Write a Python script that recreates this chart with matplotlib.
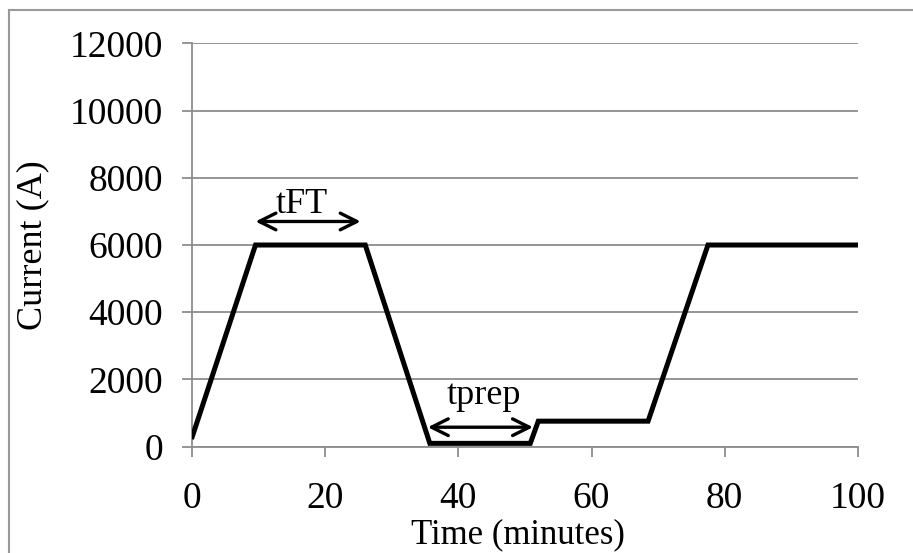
import matplotlib
matplotlib.use("Agg")
import matplotlib.pyplot as plt
from matplotlib.lines import Line2D

# current profile
time_min = [0, 9.5, 26, 35.7, 50.8, 52, 68.5, 77.5, 100]
current_a = [300, 6000, 6000, 100, 100, 760, 760, 6000, 6000]

x_ticks = [0, 20, 40, 60, 80, 100]
y_ticks = [0, 2000, 4000, 6000, 8000, 10000, 12000]

# interval markers: (label, start, end, arrow level, text x, text baseline)
intervals = [
    ("tFT", 9.5, 25.3, 6700, 16.4, 6950),
    ("tprep", 35.4, 51.2, 580, 43.8, 1270),
]

plt.rcParams['font.family'] = ['Liberation Serif', 'DejaVu Serif']
grid_col = '#8c8c8c'

fig = plt.figure(figsize=(9.13, 5.53), dpi=100)
ax = fig.add_axes([0.2106, 0.1922, 0.7288, 0.7295])

ax.plot(time_min, current_a, color='black', lw=3.6, solid_joinstyle='miter', zorder=3)

for label, x0, x1, ya, xt, yt in intervals:
    ax.annotate('', xy=(x0, ya), xytext=(x1, ya),
                arrowprops=dict(arrowstyle='<->', color='black', lw=2.4,
                                mutation_scale=30, shrinkA=0, shrinkB=0))
    ax.text(xt, yt, label, ha='center', va='baseline', fontsize=26)

ax.set_xlim(0, 100)
ax.set_ylim(0, 12000)
ax.set_xticks(x_ticks)
ax.set_yticks(y_ticks)
ax.grid(axis='y', color=grid_col, lw=1.3)
ax.set_axisbelow(True)

for side in ['top', 'right']:
    ax.spines[side].set_visible(False)
for side in ['left', 'bottom']:
    ax.spines[side].set_color(grid_col)
    ax.spines[side].set_linewidth(1.3)

ax.tick_params(axis='x', length=7, width=1.3, color=grid_col, pad=18, labelsize=27)
ax.tick_params(axis='y', length=7, width=1.3, color=grid_col, pad=14, labelsize=27)

ax.set_xlabel('Time (minutes)', fontsize=25, va='center')
ax.xaxis.set_label_coords(0.489, -0.218)
ax.set_ylabel('Current (A)', fontsize=26, va='center')
ax.yaxis.set_label_coords(-0.239, 0.5)

# outer chart frame (only top and left edges visible in the reference)
fig.add_artist(Line2D([0.0099, 0.0099], [0, 0.982], color='#999999', lw=1.5))
fig.add_artist(Line2D([0.0099, 1.0], [0.982, 0.982], color='#999999', lw=1.5))

fig.savefig('out.png', dpi=100)
